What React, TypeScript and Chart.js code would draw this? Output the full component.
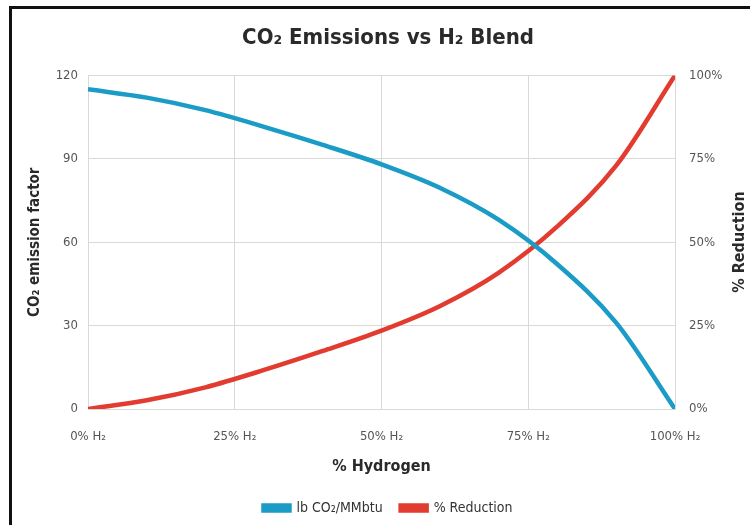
import React, { useEffect, useRef } from "react";
import { Chart, registerables } from "chart.js";

Chart.register(...registerables);

const hydrogenPct = [0, 10, 20, 30, 40, 50, 60, 70, 80, 90, 100];
const emissionFactor = [115, 112, 107.5, 101.5, 95, 88, 79.5, 68, 52, 31, 0];
const reductionPct = [0, 2.6, 6.5, 11.7, 17.4, 23.5, 30.9, 40.9, 54.8, 73, 100];
const xTicks = [0, 25, 50, 75, 100];
const leftTicks = [0, 30, 60, 90, 120];
const rightTicks = [0, 25, 50, 75, 100];
const rightTitle = "% Reduction";

const FONT = "'Liberation Sans Narrow', 'DejaVu Sans Condensed', sans-serif";
const BLUE = "#1b9cc6";
const RED = "#e23b2f";

const rightTitlePlugin = {
  id: "rightTitle",
  afterDraw(chart: any) {
    const ctx = chart.ctx;
    ctx.save();
    ctx.translate(740, 242);
    ctx.rotate(-Math.PI / 2);
    ctx.fillStyle = "#2a2a2a";
    ctx.font = `bold 16px ${FONT}`;
    ctx.textAlign = "center";
    ctx.textBaseline = "middle";
    ctx.fillText(rightTitle, 0, 0);
    ctx.restore();
  },
};

export default function App() {
  const ref = useRef<HTMLCanvasElement | null>(null);

  useEffect(() => {
    if (!ref.current) return;
    const chart = new Chart(ref.current, {
      type: "line",
      data: {
        datasets: [
          {
            label: "lb CO\u2082/MMbtu",
            data: hydrogenPct.map((x, i) => ({ x, y: emissionFactor[i] })),
            borderColor: BLUE,
            backgroundColor: BLUE,
            borderWidth: 4.5,
            pointRadius: 0,
            cubicInterpolationMode: "monotone",
            yAxisID: "y",
          },
          {
            label: "% Reduction",
            data: hydrogenPct.map((x, i) => ({ x, y: reductionPct[i] })),
            borderColor: RED,
            backgroundColor: RED,
            borderWidth: 4.5,
            pointRadius: 0,
            cubicInterpolationMode: "monotone",
            yAxisID: "y1",
          },
        ],
      },
      plugins: [rightTitlePlugin],
      options: {
        animation: false,
        responsive: false,
        maintainAspectRatio: false,
        layout: { padding: { left: 26, right: 0, top: 0, bottom: 0 } },
        plugins: {
          title: {
            display: true,
            text: "CO\u2082 Emissions vs H\u2082 Blend",
            color: "#2a2a2a",
            font: { family: FONT, size: 22, weight: "bold" },
            padding: { top: 25, bottom: 24 },
          },
          legend: {
            position: "bottom",
            labels: {
              color: "#333",
              font: { family: FONT, size: 14 },
              boxWidth: 26,
              boxHeight: 5,
              padding: 18,
            },
          },
          tooltip: { enabled: false },
        },
        scales: {
          x: {
            type: "linear",
            min: 0,
            max: 100,
            afterBuildTicks: (axis: any) => {
              axis.ticks = xTicks.map((v) => ({ value: v }));
            },
            afterFit: (axis: any) => {
              axis.height = 74;
            },
            ticks: {
              color: "#555",
              font: { family: FONT, size: 13 },
              padding: 20,
              maxRotation: 0,
              callback: (v: any) => `${v}% H\u2082`,
            },
            grid: { color: "#d9d9d9", lineWidth: 1, drawTicks: false },
            border: { color: "#d9d9d9" },
            title: {
              display: true,
              text: "% Hydrogen",
              color: "#2a2a2a",
              font: { family: FONT, size: 16, weight: "bold" },
              padding: { top: 8, bottom: 7 },
            },
          },
          y: {
            position: "left",
            min: 0,
            max: 120,
            afterBuildTicks: (axis: any) => {
              axis.ticks = leftTicks.map((v) => ({ value: v }));
            },
            afterFit: (axis: any) => {
              axis.width = 62;
            },
            ticks: {
              color: "#555",
              font: { family: FONT, size: 13 },
              padding: 10,
            },
            grid: { color: "#d9d9d9", lineWidth: 1, drawTicks: false },
            border: { color: "#d9d9d9" },
            title: {
              display: true,
              text: "CO\u2082 emission factor",
              color: "#2a2a2a",
              font: { family: FONT, size: 15, weight: "bold" },
              padding: { top: 0, bottom: 6 },
            },
          },
          y1: {
            position: "right",
            min: 0,
            max: 100,
            afterBuildTicks: (axis: any) => {
              axis.ticks = rightTicks.map((v) => ({ value: v }));
            },
            afterFit: (axis: any) => {
              axis.width = 75;
            },
            ticks: {
              color: "#555",
              font: { family: FONT, size: 13 },
              padding: 14,
              callback: (v: any) => `${v}%`,
            },
            grid: { display: false, drawTicks: false },
            border: { color: "#d9d9d9" },
          },
        },
      },
    } as any);
    return () => chart.destroy();
  }, []);

  return (
    <div style={{ position: "absolute", left: 0, top: 0, width: 750, height: 525, background: "#fff" }}>
      <canvas ref={ref} width={750} height={525} style={{ position: "absolute", left: 0, top: 0, width: 750, height: 525 }} />
      <div
        style={{
          position: "absolute",
          left: 9,
          top: 6,
          right: 0,
          bottom: 0,
          borderTop: "3px solid #111",
          borderLeft: "3px solid #111",
          pointerEvents: "none",
        }}
      />
    </div>
  );
}
